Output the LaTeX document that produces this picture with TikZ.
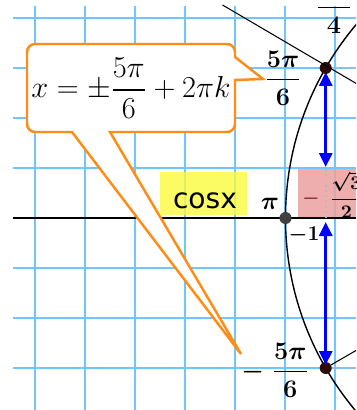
\documentclass[tikz,border=0pt]{standalone}
\usepackage{amsmath}
\usepackage{fontspec}
\newfontfamily\cossans{DejaVu Sans}
\usetikzlibrary{arrows.meta}
\definecolor{gridblue}{RGB}{110,200,255}
\definecolor{calloutorange}{RGB}{255,140,20}
\definecolor{boxyellow}{RGB}{250,250,60}
\definecolor{boxpink}{RGB}{236,160,160}
\definecolor{minusred}{RGB}{120,20,20}
\definecolor{ptdark}{RGB}{45,10,10}

\begin{document}
\begin{tikzpicture}[
    gridline/.style={gridblue, line width=1.1pt},
    dotline/.style={gray!55, dotted, line width=1pt},
    ptdot/.style={circle, fill=ptdark, inner sep=0.085cm},
    bluearrow/.style={blue, line width=1.7pt,
      {Triangle[width=0.26cm,length=0.28cm]}-{Triangle[width=0.26cm,length=0.28cm]}},
    boldlbl/.style={font=\fontsize{15}{18}\selectfont\boldmath},
    callout/.style={draw=calloutorange, fill=white, line width=1.4pt}
  ]
  \useasboundingbox (0,0) rectangle (7.12,-8.2);
  \clip (0,0) rectangle (7.12,-8.2);
  % draw grid
  \foreach \k in {0,...,6}
    \draw[gridline] (0.7+\k,-0.12) -- (0.7+\k,-8.2);
  \foreach \k in {0,...,7}
    \draw[gridline] (0.26,-0.36-\k) -- (7.12,-0.36-\k);
  % draw highlight boxes
  \fill[boxyellow, fill opacity=0.8] (3.2,-3.44) rectangle (4.94,-4.3);
  \fill[boxpink, fill opacity=0.85] (5.96,-3.38) rectangle (7.12,-4.36);
  \node[font=\cossans\fontsize{16}{18}\selectfont] (cos_lbl) at (4.1,-4.02) {cosx};
  % draw axis
  \draw[black, line width=0.8pt] (0.26,-4.36) -- (7.12,-4.36);
  % draw unit circle and radii
  \coordinate (O) at (11.71,-4.36);
  \coordinate (ray_end) at (4.45,-0.1);
  \draw[line width=0.8pt] (O) circle (6);
  \node[ptdot, fill=black!75] (pt_pi) at (5.71,-4.36) {};
  \node[ptdot] (pt_5pi6) at (6.514,-1.36) {};
  \node[ptdot] (pt_m5pi6) at (6.514,-7.36) {};
  \draw[line width=0.6pt] (O) -- (ray_end);
  \draw[line width=0.6pt] (O) -- (pt_m5pi6);
  % draw dotted projections
  \coordinate (edge_top) at (7.12,-1.36);
  \coordinate (edge_bot) at (7.12,-7.36);
  \coordinate (proj_top) at (6.514,-3.38);
  \coordinate (proj_axis) at (6.514,-4.36);
  \draw[dotline] (pt_5pi6) -- (edge_top);
  \draw[dotline] (pt_m5pi6) -- (edge_bot);
  \draw[dotline] (proj_top) -- (proj_axis);
  % draw blue arrows
  \coordinate (arr_top_a) at (6.514,-1.44);
  \coordinate (arr_top_b) at (6.514,-3.34);
  \coordinate (arr_bot_a) at (6.514,-4.44);
  \coordinate (arr_bot_b) at (6.514,-7.3);
  \draw[bluearrow] (arr_top_a) -- (arr_top_b);
  \draw[bluearrow] (arr_bot_a) -- (arr_bot_b);
  % draw labels
  \node[boldlbl] (lbl_34) at (6.68,-0.12) {$\dfrac{\phantom{3\pi}}{4}$};
  \node[boldlbl] (lbl_5pi6) at (5.66,-1.56) {$\dfrac{5\pi}{6}$};
  \node[boldlbl] (lbl_m5pi6) at (5.5,-7.4) {$-\;\dfrac{5\pi}{6}$};
  \node[boldlbl] (lbl_pi) at (5.4,-4.07) {$\pi$};
  \node[font=\fontsize{12}{14}\selectfont\boldmath] (lbl_m1) at (6.08,-4.7) {$-1$};
  \node[font=\fontsize{11}{13}\selectfont\boldmath, anchor=west, inner sep=0] (lbl_sqrt3)
    at (6.04,-3.9) {$\textcolor{minusred}{-}\hspace{0.2cm}\dfrac{\sqrt{3}}{2}$};
  % draw callout
  \draw[callout] (0.54,-1.6) [rounded corners=0.16cm] -- (0.54,-0.88) -- (4.7,-0.88)
    [sharp corners] -- (4.7,-1.14) -- (5.26,-1.58) -- (4.7,-1.6)
    [rounded corners=0.16cm] -- (4.7,-2.64) [sharp corners] -- (2.2,-2.64) -- (4.82,-7.08)
    -- (1.44,-2.64) [rounded corners=0.16cm] -- (0.54,-2.64) -- cycle;
  \node[font=\fontsize{16}{19}\selectfont] (formula) at (2.62,-1.76) {$x=\pm\dfrac{5\pi}{6}+2\pi k$};
\end{tikzpicture}
\end{document}
